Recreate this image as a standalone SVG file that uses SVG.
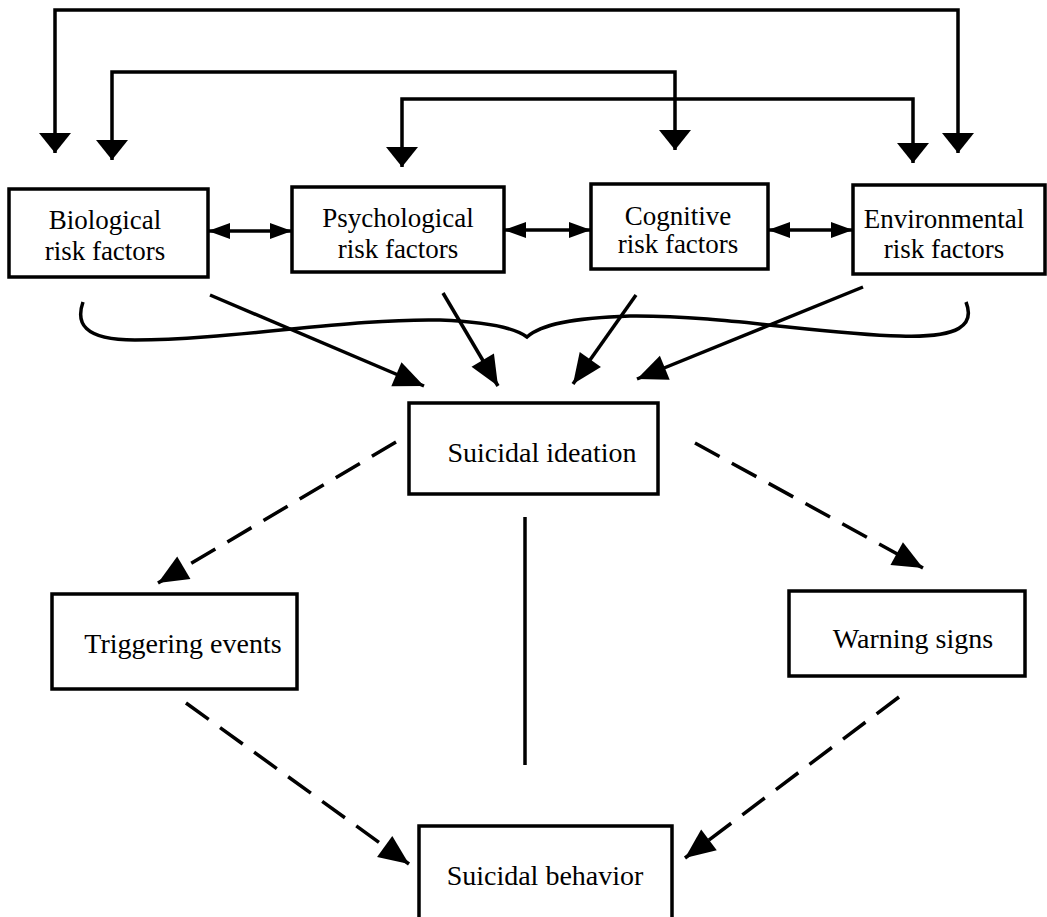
<svg xmlns="http://www.w3.org/2000/svg" width="1047" height="917" viewBox="0 0 1047 917">
<style>
.box{fill:#fff;stroke:#000;stroke-width:3.5}
.t{font-family:"Liberation Serif","Times New Roman",serif;font-size:27px;fill:#000;text-anchor:middle}
.b{font-size:28px}
.ln{fill:none;stroke:#000;stroke-width:3.5}
.dash{stroke-dasharray:28 14}
</style>
<defs>
<marker id="down" markerUnits="userSpaceOnUse" markerWidth="20" markerHeight="32" refX="20" refY="16" orient="auto-start-reverse" overflow="visible">
<path d="M0,0 L20,16 L0,32 z" fill="#000"/>
</marker>
<marker id="big" markerUnits="userSpaceOnUse" markerWidth="30" markerHeight="26" refX="30" refY="13" orient="auto" overflow="visible">
<path d="M0,0 L30,13 L0,26 z" fill="#000"/>
</marker>
<marker id="small" markerUnits="userSpaceOnUse" markerWidth="22" markerHeight="16" refX="22" refY="8" orient="auto-start-reverse" overflow="visible">
<path d="M0,0 L22,8 L0,16 z" fill="#000"/>
</marker>
</defs>
<g id="connectors">
<path class="ln" d="M55,153 L55,10 L958,10 L958,153" marker-start="url(#down)" marker-end="url(#down)"/>
<path class="ln" d="M112,160 L112,72 L675,72 L675,150" marker-start="url(#down)" marker-end="url(#down)"/>
<path class="ln" d="M402,167 L402,99 L913,99 L913,163" marker-start="url(#down)" marker-end="url(#down)"/>
<path class="ln" d="M208,231 L292,231" marker-start="url(#small)" marker-end="url(#small)"/>
<path class="ln" d="M504,230 L591,230" marker-start="url(#small)" marker-end="url(#small)"/>
<path class="ln" d="M768,230 L853,230" marker-start="url(#small)" marker-end="url(#small)"/>
<path class="ln" d="M83,302 C76,322 82,340 135,340 C230,340 350,318 440,320 C490,322 515,328 527,337 C540,325 570,318 630,316 C720,315 820,334 900,336 C960,338 975,325 966,302"/>
<path class="ln" d="M210,295 L424,386" marker-end="url(#big)"/>
<path class="ln" d="M443,293 L498,386" marker-end="url(#big)"/>
<path class="ln" d="M636,295 L573,384" marker-end="url(#big)"/>
<path class="ln" d="M863,287 L637,379" marker-end="url(#big)"/>
<path class="ln dash" d="M396,442 L158,583" marker-end="url(#big)"/>
<path class="ln dash" d="M695,443 L923,568" marker-end="url(#big)"/>
<path class="ln dash" d="M186,703 L409,864" marker-end="url(#big)"/>
<path class="ln dash" d="M899,697 L685,858" marker-end="url(#big)"/>
<path class="ln" d="M525,517 L525,765"/>
</g>
<g id="bio">
<rect class="box" x="9" y="189" width="199" height="88"/>
<text class="t" x="105" y="229">Biological</text>
<text class="t" x="105" y="260">risk factors</text>
</g>
<g id="psych">
<rect class="box" x="292" y="187" width="212" height="85"/>
<text class="t" x="398" y="227">Psychological</text>
<text class="t" x="398" y="258">risk factors</text>
</g>
<g id="cog">
<rect class="box" x="591" y="184" width="177" height="85"/>
<text class="t" x="678" y="225">Cognitive</text>
<text class="t" x="678" y="253">risk factors</text>
</g>
<g id="env">
<rect class="box" x="853" y="185" width="192" height="89"/>
<text class="t" x="944" y="228">Environmental</text>
<text class="t" x="944" y="258">risk factors</text>
</g>
<g id="ideation">
<rect class="box" x="409" y="403" width="249" height="91"/>
<text class="t b" x="542" y="462">Suicidal ideation</text>
</g>
<g id="triggering">
<rect class="box" x="52" y="594" width="245" height="95"/>
<text class="t b" x="183" y="653">Triggering events</text>
</g>
<g id="warning">
<rect class="box" x="789" y="591" width="236" height="85"/>
<text class="t b" x="913" y="648">Warning signs</text>
</g>
<g id="behavior">
<rect class="box" x="419" y="826" width="253" height="100"/>
<text class="t b" x="545" y="885">Suicidal behavior</text>
</g>
</svg>
